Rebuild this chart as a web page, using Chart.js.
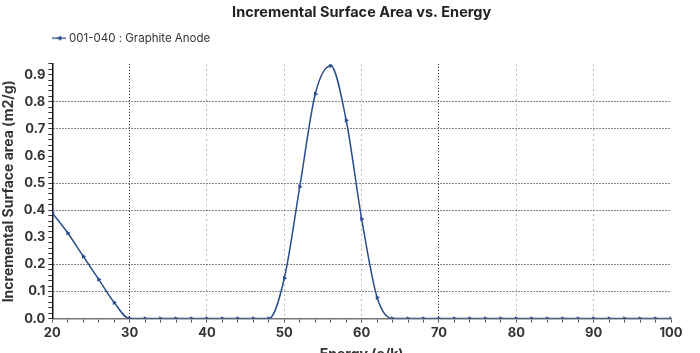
<!DOCTYPE html>
<html>
<head>
<meta charset="utf-8">
<script src="https://cdn.jsdelivr.net/npm/chart.js@4.4.0/dist/chart.umd.min.js"></script>
<style>
html,body{margin:0;padding:0;background:#fff;overflow:hidden;}
#wrap{width:700px;height:363px;position:relative;}
</style>
</head>
<body>
<div id="wrap"><canvas id="c"></canvas></div>
<script>
const chartTitle = "Incremental Surface Area vs. Energy";
const seriesLabel = "001-040 : Graphite Anode";
const xTitle = "Energy (e/k)";
const yTitle = "Incremental Surface area (m2/g)";
const energy = [20,22,24,26,28,30,32,34,36,38,40,42,44,46,48,50,52,54,56,58,60,62,64,66,68,70,72,74,76,78,80,82,84,86,88,90,92,94,96,98,100];
const area =   [0.39,0.316,0.23,0.145,0.059,0,0,0,0,0,0,0,0,0,0,0.149,0.487,0.829,0.933,0.732,0.368,0.078,0,0,0,0,0,0,0,0,0,0,0,0,0,0,0,0,0,0,0];
const darkX = [30,70];
const hiddenY = [0.3,0.6,0.9];

const lineColor = '#2a4d8c';
const FONT = "Inter, 'DejaVu Sans', sans-serif";

// legend marker image: line with triangle
const lg = document.createElement('canvas');
lg.width = 14; lg.height = 8;
(function(){
  const g = lg.getContext('2d');
  g.strokeStyle = lineColor; g.lineWidth = 1.3;
  g.beginPath(); g.moveTo(0,4); g.lineTo(14,4); g.stroke();
  g.fillStyle = lineColor;
  g.beginPath(); g.moveTo(4,4); g.lineTo(9,1.5); g.lineTo(9,6.5); g.closePath(); g.fill();
})();

const relayout = {
  id:'relayout',
  afterLayout(chart){
    const t = chart.titleBlock, a = chart.chartArea, l = chart.legend;
    if (t){ t.left = a.left; t.right = a.right; t.width = a.right - a.left; }
    if (l){ const dx = a.left - 18 - l.left; l.left += dx; l.right += dx; l.top -= 10; l.bottom -= 10; }
  }
};

function near(v, list){ return list.some(x => Math.abs(v - x) < 1e-6); }
function majorX(v){ return Math.abs(v - Math.round(v)) < 1e-6 && Math.round(v) % 10 === 0; }
function majorY(v){ const k = Math.round(v*100); return Math.abs(v*100 - k) < 1e-6 && k % 10 === 0; }

new Chart(document.getElementById('c'), {
  type:'line',
  data:{
    datasets:[{
      label: seriesLabel,
      data: energy.map((x,i)=>({x:x,y:area[i]})),
      borderColor: lineColor,
      backgroundColor: lineColor,
      borderWidth: 1.5,
      pointStyle: 'triangle',
      rotation: 90,
      pointRadius: 2.8,
      pointBorderWidth: 0,
      cubicInterpolationMode: 'monotone',
      fill:false
    }]
  },
  options:{
    responsive:true,
    maintainAspectRatio:false,
    animation:false,
    layout:{padding:{left:0,right:29,top:4,bottom:0}},
    plugins:{
      title:{display:true,text:chartTitle,color:'#222',font:{family:FONT,size:14.5,weight:'bold'},padding:{top:0,bottom:0}},
      legend:{display:true,position:'top',align:'start',
        labels:{usePointStyle:true,pointStyle:lg,pointStyleWidth:8,color:'#333',font:{family:FONT,size:11.5},padding:21,boxHeight:8,
          generateLabels(chart){
            return [{text:seriesLabel,fillStyle:lineColor,strokeStyle:lineColor,lineWidth:0,pointStyle:lg,hidden:false,datasetIndex:0,fontColor:'#333'}];
          }}
      },
      tooltip:{enabled:false}
    },
    scales:{
      x:{type:'linear',min:20,max:100,
        title:{display:true,text:xTitle,color:'#333',font:{family:FONT,size:14,weight:'bold'},padding:{top:2,bottom:0}},
        ticks:{stepSize:2,autoSkip:false,maxRotation:0,color:'#333',font:{family:FONT,size:13,weight:'bold'},
          callback:(v)=> (majorX(v) ? String(Math.round(v)) : '')},
        grid:{
          color:(ctx)=>{const v=ctx.tick?ctx.tick.value:null; if(v===null||!majorX(v)||v===20||v===100) return 'rgba(0,0,0,0)'; return near(v,darkX)?'#222':'#bbb';},
          tickColor:'#555',tickLength:4,tickBorderDash:[]
        },
        border:{display:true,color:'#777',width:1.5,
          dash:(ctx)=>{const v=ctx.tick?ctx.tick.value:null; return (v!==null && near(v,darkX)) ? [1,2] : [2,3];}}
      },
      y:{type:'linear',min:0,max:0.94,
        title:{display:true,text:yTitle,color:'#333',font:{family:FONT,size:14,weight:'bold'},padding:{top:0,bottom:4}},
        ticks:{stepSize:0.02,autoSkip:false,color:'#333',font:{family:FONT,size:13,weight:'bold'},
          callback:(v)=> majorY(v) ? v.toFixed(1) : ''},
        grid:{
          color:(ctx)=>{const v=ctx.tick?ctx.tick.value:null; if(v===null||!majorY(v)||v<0.05||near(v,hiddenY)) return 'rgba(0,0,0,0)'; return '#111';},
          tickColor:'#333',tickLength:4,tickBorderDash:[]
        },
        border:{display:true,color:'#111',width:1.5,dash:[1,2]}
      }
    }
  },
  plugins:[relayout]
});
</script>
</body>
</html>
